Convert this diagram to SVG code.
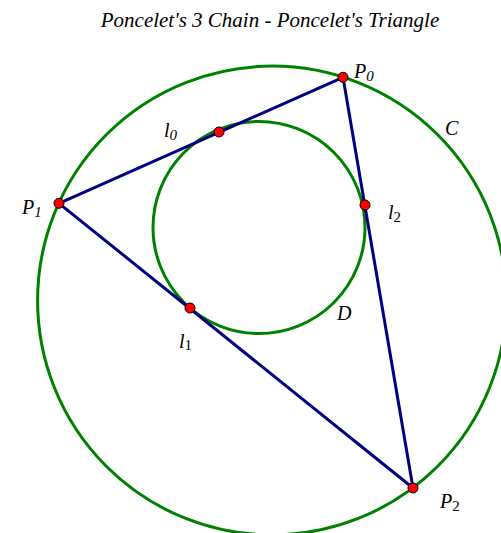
<svg xmlns="http://www.w3.org/2000/svg" width="501" height="533" viewBox="0 0 501 533">
<style>
.t{font-family:"Liberation Serif","Times New Roman",serif;font-style:italic;fill:#000}
.c{fill:none;stroke:#008000;stroke-width:3}
.e{stroke:#000080;stroke-width:3;fill:none}
.p{fill:#ff0000;stroke:#000;stroke-width:1}
.up{font-style:normal}
</style>
<rect width="501" height="533" fill="#fff"/>
<text class="t" x="270" y="27" font-size="21" text-anchor="middle">Poncelet's 3 Chain - Poncelet's Triangle</text>
<g id="C"><circle class="c" cx="272" cy="300.5" r="234.4"/></g>
<g id="D"><circle class="c" cx="259" cy="227.5" r="106"/></g>
<g id="connectors">
<line class="e" x1="343" y1="77.3" x2="59" y2="203.3"/>
<line class="e" x1="59" y1="203.3" x2="413" y2="488"/>
<line class="e" x1="343" y1="77.3" x2="413" y2="488"/>
</g>
<g id="P0"><circle class="p" cx="343" cy="77.3" r="5"/><text class="t" x="354" y="78" font-size="20">P<tspan font-size="15" dy="3">0</tspan></text></g>
<g id="P1"><circle class="p" cx="59" cy="203.3" r="5"/><text class="t" x="22" y="214" font-size="20">P<tspan font-size="15" dy="3">1</tspan></text></g>
<g id="P2"><circle class="p" cx="413" cy="488" r="5"/><text class="t" x="440" y="508" font-size="20">P<tspan class="up" font-size="15" dy="3">2</tspan></text></g>
<g id="l0"><circle class="p" cx="219" cy="132" r="5"/><text class="t" x="164" y="137" font-size="20">l<tspan font-size="15" dy="3">0</tspan></text></g>
<g id="l1"><circle class="p" cx="190" cy="308" r="5"/><text class="t" x="179" y="348" font-size="20">l<tspan class="up" font-size="15" dy="2">1</tspan></text></g>
<g id="l2"><circle class="p" cx="365" cy="205" r="5"/><text class="t" x="388" y="219" font-size="20">l<tspan class="up" font-size="15" dy="3">2</tspan></text></g>
<g id="labelC"><text class="t" x="445" y="135" font-size="20">C</text></g>
<g id="labelD"><text class="t" x="337" y="320" font-size="20">D</text></g>
</svg>
